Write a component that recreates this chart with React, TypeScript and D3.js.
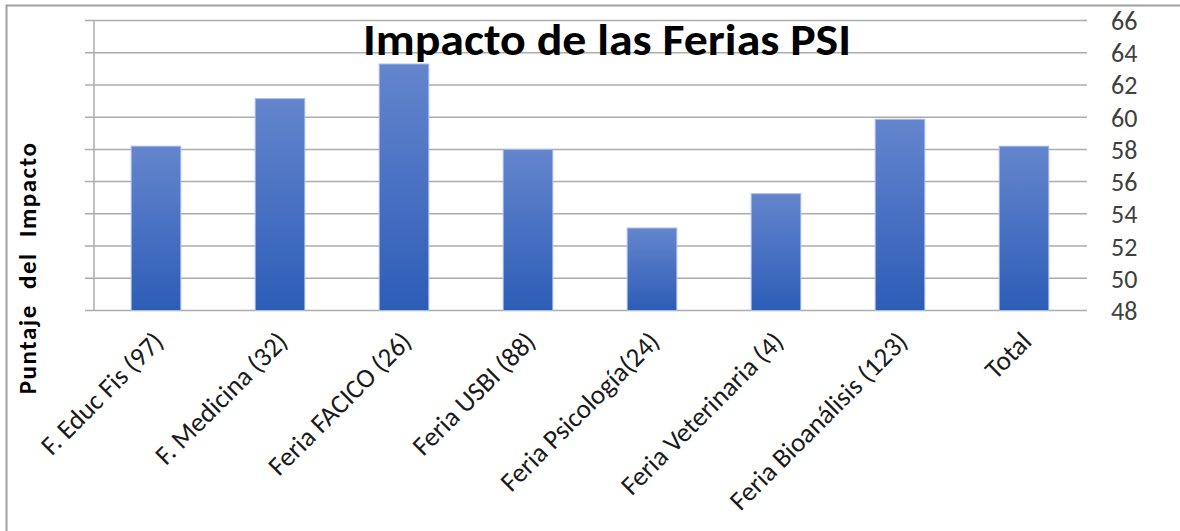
import React, { useEffect, useRef } from 'react';
import * as d3 from 'd3';

const categories = [
  'F. Educ Fis (97)',
  'F. Medicina (32)',
  'Feria FACICO (26)',
  'Feria USBI (88)',
  'Feria Psicología(24)',
  'Feria Veterinaria (4)',
  'Feria Bioanálisis (123)',
  'Total',
];
const scores = [58.2, 61.15, 63.3, 58.0, 53.12, 55.25, 59.87, 58.2];
const yTicks = [48, 50, 52, 54, 56, 58, 60, 62, 64, 66];

const FONT = 'Carlito, Calibri, Lato, sans-serif';

const App = () => {
  const svgRef = useRef(null);

  useEffect(() => {
    const W = 1180;
    const H = 531;
    const svg = d3.select(svgRef.current).attr('width', W).attr('height', H);
    svg.selectAll('*').remove();

    const left = 94, right = 1086, top = 20.5, bottom = 310.5;

    const x = d3.scaleBand().domain(categories).range([left, right]).paddingInner(0.6).paddingOuter(0.3);
    const y = d3.scaleLinear().domain([48, 66]).range([bottom, top]);

    const defs = svg.append('defs');
    const grad = defs.append('linearGradient').attr('id', 'barGrad').attr('x1', 0).attr('y1', 0).attr('x2', 0).attr('y2', 1);
    grad.append('stop').attr('offset', '0%').attr('stop-color', '#6485cd');
    grad.append('stop').attr('offset', '100%').attr('stop-color', '#2d5db7');

    svg.append('rect').attr('width', W).attr('height', H).attr('fill', '#fff');

    // frame (top and left only)
    svg.append('path')
      .attr('d', `M6.5,${H} V5.5 H${W}`)
      .attr('fill', 'none')
      .attr('stroke', '#a0a0a0')
      .attr('stroke-width', 2);

    // gridlines
    svg.append('g')
      .selectAll('line')
      .data(yTicks)
      .enter()
      .append('line')
      .attr('x1', 85)
      .attr('x2', 1087)
      .attr('y1', d => y(d))
      .attr('y2', d => y(d))
      .attr('stroke', '#acacac')
      .attr('stroke-width', 1.5);

    // left axis line
    svg.append('line')
      .attr('x1', left).attr('x2', left)
      .attr('y1', top).attr('y2', bottom)
      .attr('stroke', '#acacac')
      .attr('stroke-width', 1.5);

    // right tick labels
    svg.append('g')
      .selectAll('text')
      .data(yTicks)
      .enter()
      .append('text')
      .attr('x', 1111)
      .attr('y', d => y(d) + 9.5)
      .style('font-family', FONT)
      .style('font-size', '26px')
      .attr('fill', '#404040')
      .text(d => d);

    // title
    svg.append('text')
      .attr('x', 607)
      .attr('y', 55)
      .attr('text-anchor', 'middle')
      .attr('textLength', 488)
      .attr('lengthAdjust', 'spacingAndGlyphs')
      .style('font-family', FONT)
      .style('font-size', '45px')
      .style('font-weight', 700)
      .attr('fill', '#000')
      .text('Impacto de las Ferias PSI');

    // bars
    svg.append('g')
      .selectAll('rect')
      .data(scores)
      .enter()
      .append('rect')
      .attr('x', (d, i) => x(categories[i]))
      .attr('y', d => y(d))
      .attr('width', x.bandwidth())
      .attr('height', d => bottom - y(d))
      .attr('fill', 'url(#barGrad)')
      .attr('stroke', '#a9bde8')
      .attr('stroke-width', 1);

    // x labels
    svg.append('g')
      .selectAll('text')
      .data(categories)
      .enter()
      .append('text')
      .attr('transform', d => `translate(${x(d) + x.bandwidth() / 2 + 3},337) rotate(-45)`)
      .attr('text-anchor', 'end')
      .attr('dy', '0.32em')
      .style('font-family', FONT)
      .style('font-size', '27px')
      .attr('fill', '#1a1a1a')
      .text(d => d);

    // y axis title
    svg.append('text')
      .attr('transform', 'translate(36,268) rotate(-90)')
      .attr('text-anchor', 'middle')
      .style('font-family', FONT)
      .style('font-size', '25px')
      .style('font-weight', 700)
      .style('letter-spacing', '1.5px')
      .style('word-spacing', '8px')
      .attr('fill', '#000')
      .text('Puntaje del Impacto');
  }, []);

  return (
    <div style={{ position: 'absolute', left: 0, top: 0 }}>
      <svg ref={svgRef} style={{ display: 'block' }}></svg>
    </div>
  );
};

export default App;
